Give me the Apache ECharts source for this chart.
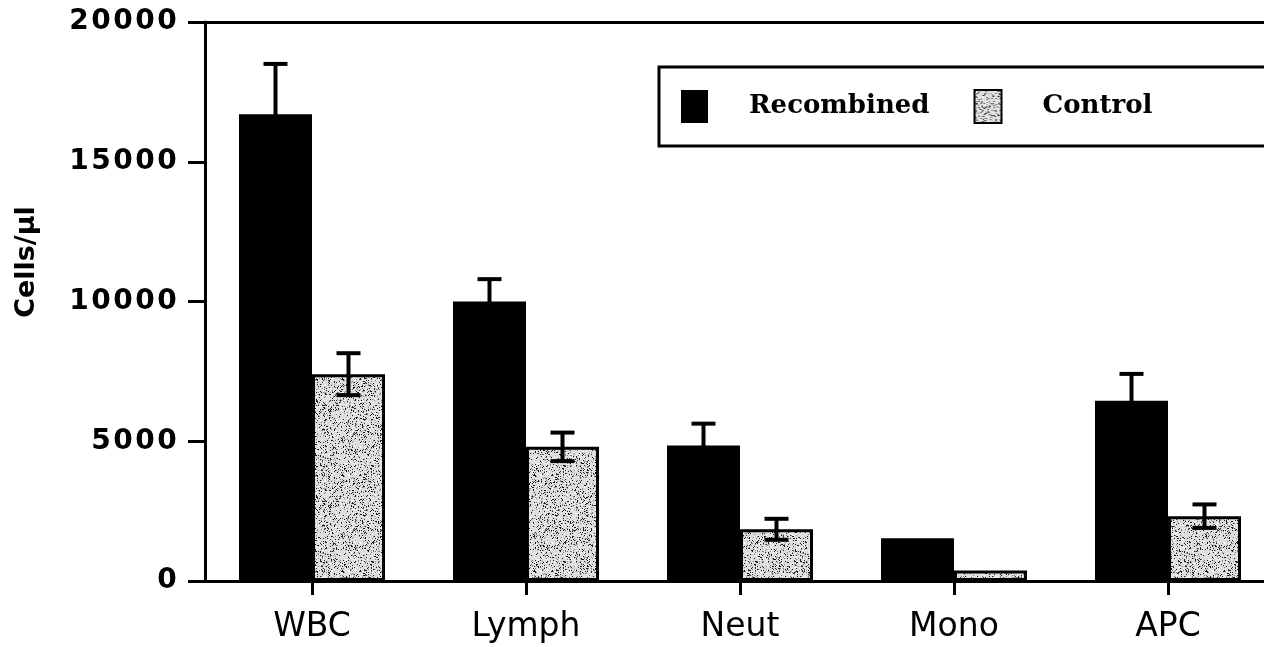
<!DOCTYPE html>
<html>
<head>
<meta charset="utf-8">
<script src="https://cdn.jsdelivr.net/npm/echarts@6/dist/echarts.min.js"></script>
<style>
html,body{margin:0;padding:0;background:#fff;}
#chart{width:1264px;height:647px;}
</style>
</head>
<body>
<div id="chart"></div>
<script>
// ---- data ----
var categories = ['WBC', 'Lymph', 'Neut', 'Mono', 'APC'];
var seriesNames = ['Recombined', 'Control'];
var recombined = [16700, 10000, 4850, 1530, 6450];
var recombinedErr = [1800, 800, 780, 0, 960];
var control = [7400, 4800, 1850, 380, 2320];
var controlErr = [750, 510, 375, 0, 420];
var yTicks = [0, 5000, 10000, 15000, 20000];

// ---- speckled texture for Control bars (deterministic) ----
function makeSpeckle() {
  var c = document.createElement('canvas');
  c.width = 96; c.height = 96;
  var g = c.getContext('2d');
  g.fillStyle = '#dedede';
  g.fillRect(0, 0, 96, 96);
  var s = 12345;
  function rnd() { s = (s * 1103515245 + 12345) % 2147483648; return s / 2147483648; }
  for (var k = 0; k < 2600; k++) {
    var x = Math.floor(rnd() * 96), y = Math.floor(rnd() * 96);
    var t = rnd();
    g.fillStyle = t < 0.45 ? '#1a1a1a' : (t < 0.75 ? '#808080' : '#ffffff');
    g.fillRect(x, y, 1, 1);
  }
  return c;
}
var speckle = makeSpeckle();

var BAR_W = 73;

function errRender(sign) {
  return function (params, api) {
    var i = api.value(0), v = api.value(1), e = api.value(2);
    if (!e) return null;
    var top = api.coord([i, v + e]);
    var bot = api.coord([i, v - e]);
    var x = top[0] + sign * BAR_W / 2;
    var h = 12;
    var st = { stroke: '#000', lineWidth: 4 };
    return {
      type: 'group',
      children: [
        { type: 'line', shape: { x1: x, y1: top[1], x2: x, y2: bot[1] }, style: st },
        { type: 'line', shape: { x1: x - h, y1: top[1], x2: x + h, y2: top[1] }, style: st },
        { type: 'line', shape: { x1: x - h, y1: bot[1], x2: x + h, y2: bot[1] }, style: st }
      ]
    };
  };
}

function errData(vals, errs) {
  return vals.map(function (v, i) { return [i, v, errs[i]]; });
}

var chart = echarts.init(document.getElementById('chart'), null, { renderer: 'canvas' });

var option = {
  backgroundColor: '#fff',
  animation: false,
  grid: {
    left: 205, top: 22, bottom: 66, right: -11,
    containLabel: false,
    outerBoundsMode: 'none',
    show: false
  },
  legend: {
    data: seriesNames,
    left: 659, top: 67,
    orient: 'horizontal',
    width: 480,
    borderColor: '#000', borderWidth: 3,
    padding: [22, 130, 22, 22],
    itemWidth: 27, itemHeight: 33,
    itemGap: 44,
    icon: 'rect',
    textStyle: {
      fontFamily: 'DejaVu Serif', fontWeight: 'bold', fontSize: 26, color: '#000',
      padding: [0, 0, 0, 36]
    }
  },
  graphic: [{
    type: 'text',
    x: 27, y: 262,
    rotation: Math.PI / 2,
    style: {
      text: 'Cells/µl',
      font: 'bold 27px "DejaVu Sans"',
      fill: '#000',
      textAlign: 'center',
      textVerticalAlign: 'middle'
    }
  }],
  xAxis: [{
    type: 'category',
    data: categories,
    position: 'bottom',
    axisLine: { lineStyle: { color: '#000', width: 3 } },
    axisTick: { show: true, alignWithLabel: true, length: 14, lineStyle: { color: '#000', width: 3 } },
    axisLabel: {
      color: '#000', fontFamily: 'DejaVu Sans', fontSize: 33, margin: 30
    },
    splitLine: { show: false }
  }, {
    type: 'category',
    data: categories,
    position: 'top',
    axisLine: { show: true, lineStyle: { color: '#000', width: 3 } },
    axisTick: { show: false },
    axisLabel: { show: false },
    splitLine: { show: false }
  }],
  yAxis: {
    type: 'value',
    min: yTicks[0], max: yTicks[yTicks.length - 1], interval: yTicks[1] - yTicks[0],
    axisLine: { show: true, lineStyle: { color: '#000', width: 3 } },
    axisTick: { show: true, length: 17, lineStyle: { color: '#000', width: 3 } },
    axisLabel: {
      margin: 27,
      formatter: function (v) {
        return String(v).split('').map(function (c) { return '{d|' + c + '}'; }).join('');
      },
      rich: {
        d: { width: 22, align: 'center', fontFamily: 'DejaVu Sans', fontWeight: 'bold', fontSize: 28, color: '#000' }
      }
    },
    splitLine: { show: false }
  },
  series: [
    {
      name: seriesNames[0], type: 'bar', data: recombined,
      barWidth: BAR_W, barGap: '0%',
      itemStyle: { color: '#000', borderColor: '#000', borderWidth: 0 },
      z: 2
    },
    {
      name: seriesNames[1], type: 'bar', data: control,
      barWidth: BAR_W, barGap: '0%',
      itemStyle: { color: { image: speckle, repeat: 'repeat' }, borderColor: '#000', borderWidth: 3 },
      z: 2
    },
    {
      name: 'errR', type: 'custom', data: errData(recombined, recombinedErr),
      renderItem: errRender(-1), z: 3, silent: true
    },
    {
      name: 'errC', type: 'custom', data: errData(control, controlErr),
      renderItem: errRender(1), z: 3, silent: true
    }
  ]
};

chart.setOption(option);
</script>
</body>
</html>
